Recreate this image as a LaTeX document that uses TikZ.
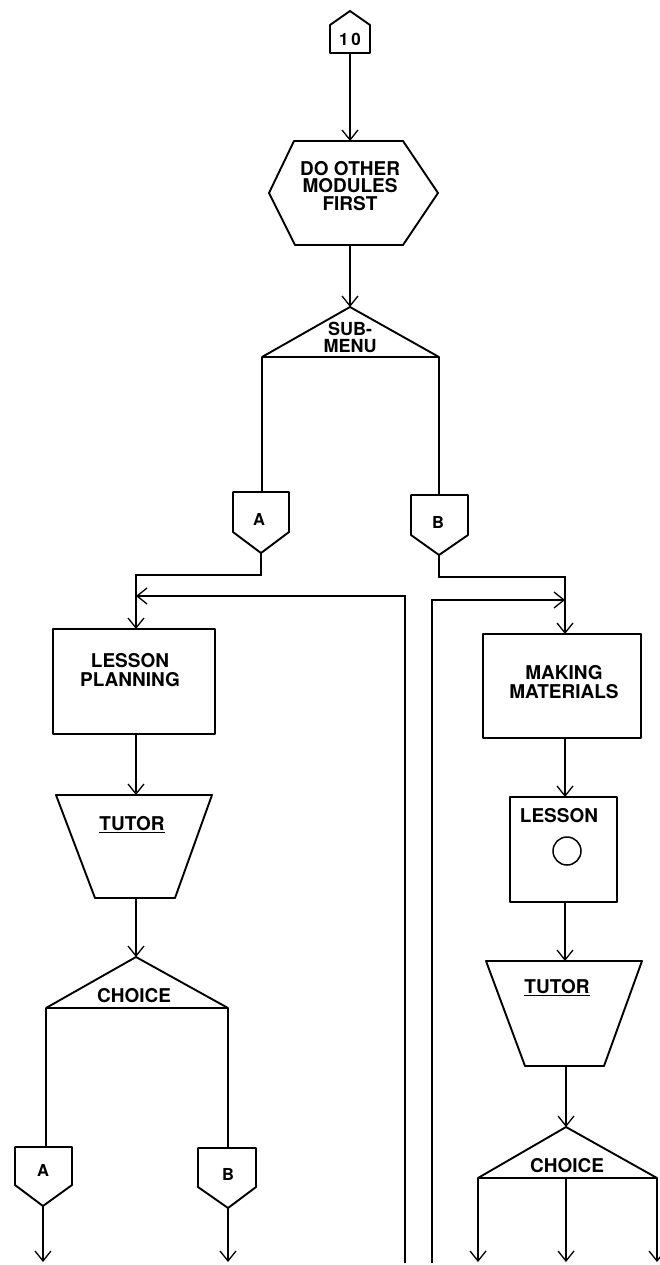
\documentclass[tikz,border=0pt]{standalone}
\usepackage{fontspec}
\setmainfont{TeX Gyre Heros}
\usetikzlibrary{arrows.meta}
\begin{document}
\begin{tikzpicture}[x=1pt,y=-1pt,
  conn/.style={line width=1.2pt},
  arr/.style={conn,-{Straight Barb[length=10pt,width=16pt,line width=1.3pt]}},
  shp/.style={line width=1.9pt, line join=round},
  lbl/.style={font=\fontsize{19}{17.5}\selectfont\bfseries, align=center, inner sep=0pt},
  small/.style={font=\fontsize{16.5}{17}\selectfont\bfseries, inner sep=0pt}]
\useasboundingbox (0,0) rectangle (659,1265);

% ---------- top connector 10 ----------
\coordinate (tenS) at (350,53);
\draw[shp] (330,25) -- (350,11) -- (370,25) -- (370,53) -- (330,53) -- cycle;
\node[small, font=\fontsize{17}{18}\selectfont\bfseries] (ten) at (350,39) {1\,0};

% ---------- hexagon ----------
\coordinate (hexN) at (350,141);
\coordinate (hexS) at (350,245);
\draw[shp] (294,141) -- (403,141) -- (438,193) -- (403,245) -- (295,245) -- (269,193) -- cycle;
\node[lbl] (hex) at (350,186) {DO OTHER\\MODULES\\FIRST};

% ---------- sub-menu triangle ----------
\coordinate (subN) at (350,307);
\coordinate (subL) at (262,357);
\coordinate (subR) at (439,357);
\draw[shp] (subN) -- (subR) -- (subL) -- cycle;
\node[lbl, font=\fontsize{18}{17}\selectfont\bfseries] (sub) at (350,337) {SUB-\\MENU};

% ---------- A / B off-page connectors ----------
\coordinate (aN) at (262,492);
\coordinate (aS) at (261,553);
\draw[shp] (233,492) -- (289,492) -- (289,532) -- (aS) -- (233,532) -- cycle;
\node[small] (a) at (259,519) {A};
\coordinate (bN) at (439,495);
\coordinate (bS) at (439,555);
\draw[shp] (411,495) -- (468,495) -- (468,535) -- (bS) -- (411,535) -- cycle;
\node[small] (b) at (438,522) {B};

\draw[conn] (subL) -- (aN);
\draw[conn] (subR) -- (bN);

% ---------- left column ----------
\node[draw, shp, minimum width=162pt, minimum height=105pt, inner sep=0pt] (lp) at (134,681.5) {};
\node[lbl, font=\fontsize{19}{19}\selectfont\bfseries] (lpt) at (130,670) {LESSON\\PLANNING};
\coordinate (lpN) at (136,629);
\coordinate (lpS) at (136,734);

\coordinate (tlN) at (136,795);
\coordinate (tlS) at (136,898);
\draw[shp] (56,795) -- (212,795) -- (175,898) -- (95,898) -- cycle;
\node[lbl] (tl) at (132,825) {\underline{TUTOR}};

\coordinate (clN) at (136,957);
\coordinate (clL) at (46,1008);
\coordinate (clR) at (228,1008);
\draw[shp] (clN) -- (clR) -- (clL) -- cycle;
\node[lbl] (cl) at (134,996) {CHOICE};

\coordinate (a2N) at (46,1147);
\coordinate (a2S) at (43,1206);
\draw[shp] (15,1147) -- (72,1147) -- (72,1185) -- (a2S) -- (15,1185) -- cycle;
\node[small] (a2) at (43,1170) {A};
\coordinate (b2N) at (228,1148);
\coordinate (b2S) at (228,1208);
\draw[shp] (198,1148) -- (256,1148) -- (256,1187) -- (b2S) -- (198,1187) -- cycle;
\node[small] (b2) at (228,1174) {B};
\coordinate (a2E) at (43,1262);
\coordinate (b2E) at (228,1262);

\draw[conn] (clL) -- (a2N);
\draw[conn] (clR) -- (b2N);
\draw[arr] (a2S) -- (a2E);
\draw[arr] (b2S) -- (b2E);

% ---------- right column ----------
\node[draw, shp, minimum width=158pt, minimum height=104pt, inner sep=0pt] (mm) at (562,686) {};
\node[lbl, font=\fontsize{19}{19}\selectfont\bfseries] (mmt) at (564,682) {MAKING\\MATERIALS};
\coordinate (mmN) at (565,634);
\coordinate (mmS) at (565,738);

\node[draw, shp, minimum width=107pt, minimum height=105pt, inner sep=0pt] (ls) at (563.5,849.5) {};
\node[lbl] (lst) at (559,816) {LESSON};
\node[draw, circle, line width=1.5pt, minimum size=28pt, inner sep=0pt] (lc) at (567,851) {};
\coordinate (lsN) at (565,797);
\coordinate (lsS) at (565,902);

\coordinate (trN) at (565,961);
\coordinate (trS) at (566,1066);
\draw[shp] (486,961) -- (642,961) -- (604,1066) -- (525,1066) -- cycle;
\node[lbl] (tr) at (557,988) {\underline{TUTOR}};

\coordinate (crN) at (566,1127);
\coordinate (crL) at (478,1178);
\coordinate (crM) at (566,1178);
\coordinate (crR) at (657,1178);
\draw[shp] (crN) -- (crR) -- (crL) -- cycle;
\node[lbl] (cr) at (567,1166) {CHOICE};
\coordinate (crLE) at (478,1262);
\coordinate (crME) at (566,1262);
\coordinate (crRE) at (657,1262);

\draw[arr] (crL) -- (crLE);
\draw[arr] (crM) -- (crME);
\draw[arr] (crR) -- (crRE);

% ---------- main flow ----------
\draw[arr] (tenS) -- (hexN);
\draw[arr] (hexS) -- (subN);
\draw[arr] (aS) -- (261,575) -| (lpN);
\draw[arr] (bS) -- (439,577) -| (mmN);
\draw[arr] (lpS) -- (tlN);
\draw[arr] (tlS) -- (clN);
\draw[arr] (mmS) -- (lsN);
\draw[arr] (lsS) -- (trN);
\draw[arr] (trS) -- (crN);

% ---------- loop-back lines ----------
\coordinate (loopL) at (405,1263);
\coordinate (loopR) at (432,1263);
\coordinate (lpIn) at (136,596);
\coordinate (mmIn) at (565,600);
\draw[arr] (loopL) -- (405,596) -- (lpIn);
\draw[arr] (loopR) -- (432,600) -- (mmIn);
\end{tikzpicture}
\end{document}
